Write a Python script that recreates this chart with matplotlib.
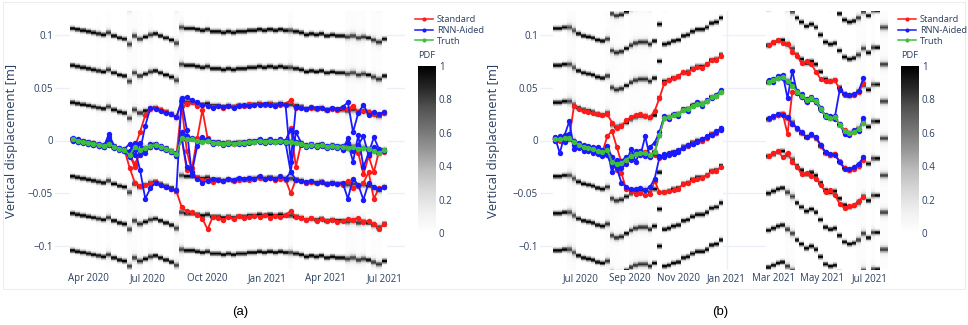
import numpy as np
import pandas as pd
import matplotlib
matplotlib.use('Agg')
import matplotlib.pyplot as plt
import matplotlib.dates as mdates
from matplotlib.lines import Line2D
from matplotlib.patches import Rectangle

plt.rcParams['font.family'] = ['Open Sans', 'DejaVu Sans']

# ------------------------------------------------------------
# Data (displacements in mm)
# ------------------------------------------------------------
AMBIGUITY_MM = 35.0      # spacing of the phase-wrapped PDF peaks

# (a): one acquisition every 8 days from 2020-03-07
dates_a = pd.date_range('2020-03-07', periods=61, freq='8D')

truth_a = [1, 0, -1, -2, -3, -4, -5, -3, -6, -8, -9, -14, -6, -9, -7, -5, -4, -6, -8, -10,
           -13, 2, 1, 1, 0, -1, 0, -2, -2, -3, -2, -3, -2, -2, -1, -1, 0, -1, 0, -1,
           0, -1, -1, -2, -3, -5, -4, -5, -4, -6, -5, -6, -6, -7, -6, -8, -7, -8, -10, -12, -9]

standard_a = [
    [1, 0, -1, -2, -3, -4, -5, -3, -6, -8, -9, -26, -40, -43, -42, -41, -39, -42, -44, -46,
     -48, -63, -67, -68, -70, -74, -84, -72, -73, -75, -72, -74, -71, -73, -72, -71, -72, -70, -73, -71,
     -72, -70, -67, -72, -73, -75, -73, -76, -74, -76, -75, -77, -76, -74, -75, -73, -77, -76, -79, -84, -79],
    [1, 0, -1, -2, -3, -4, -5, -3, -6, -8, -9, -14, -6, 8, 24, 30, 31, 29, 27, 25,
     22, 37, 35, 36, 33, 34, 33, 32, 33, 31, 33, 32, 34, 33, 35, 34, 35, 34, 35, 33,
     34, 35, 38, 31, 32, 30, 31, 30, 31, 29, 30, 29, 31, 30, 33, 27, 28, 27, 25, 24, 26],
    [1, 0, -1, -2, -3, -4, -5, -3, -6, -8, -9, -14, -22, -12, -9, -6, -4, -7, -8, -11,
     -14, 33, -10, -30, -35, -37, -37, -39, -37, -38, -36, -38, -37, -36, -37, -36, -35, -36, -35, -37,
     -36, -37, -50, -37, -38, -40, -39, -40, -39, -41, -40, -41, -42, -38, -45, -43, -40, -30, -55, -45, -44],
    [1, 0, -1, -2, -3, -4, -5, -3, -6, -8, -9, -14, -25, -9, -7, -5, -4, -6, -8, -10,
     -13, 2, -28, -26, 2, 29, 2, -2, -2, -3, -2, -3, -2, -2, -1, -1, 0, -1, 0, -1,
     0, -1, 12, -25, -3, -5, -4, -5, -4, -6, -5, -6, -6, -7, -6, -12, -32, -15, -30, -10, -11],
]

rnn_a = [
    [2, 0, -2, -1, -4, -3, -6, 6, -5, -9, -8, -3, -14, -2, -12, -3, -6, -5, -9, -11,
     -15, 8, 4, 2, -1, 0, 1, -3, -1, -4, -2, -2, -3, -1, -2, 0, 1, -2, 1, -1,
     1, 0, 10, -1, -4, -4, -5, -4, -3, -7, -4, -5, -9, 2, -10, -4, 4, -14, -6, -10, -9],
    [1, 1, -1, -3, -2, -5, -4, -4, -7, -7, -10, -12, -8, -28, -55, -45, -40, -42, -44, -46,
     -47, 40, 41, 38, 36, 34, 33, 31, 33, 32, 33, 31, 33, 34, 33, 34, 34, 35, 34, 33,
     35, 34, -20, 32, 31, 30, 32, 31, 31, 29, 31, 30, 32, 36, 8, 26, 34, 24, 27, 25, 27],
    [0, -1, 0, -2, -4, -5, -4, -1, -6, -8, -10, -16, -4, -10, 14, 31, 30, 28, 26, 25,
     22, 38, 10, -33, -36, -40, -38, -36, -37, -38, -36, -37, -35, -36, -35, -36, -34, -36, -35, -36,
     -34, -36, -30, -37, -38, -39, -38, -40, -39, -41, -40, -41, -40, -55, -36, -42, -56, -40, -44, -46, -44],
    [1, -1, -1, -3, -2, -4, -6, 3, -6, -7, -9, -10, -2, -14, -8, -6, -3, -7, -7, -10,
     -12, 3, -25, -30, -5, 3, 0, -1, -2, -2, -3, -2, -2, -3, 0, -1, -1, 0, -1, 0,
     -1, -2, -30, 8, -2, -6, -3, -6, -5, -5, -6, -7, -5, -2, -20, 5, -25, -12, 3, -8, -10],
]

# columns with a diffuse PDF (index -> weight of the broad part)
haze_a = {5: 0.15, 7: 0.35, 11: 0.45, 12: 0.4, 13: 0.3, 15: 0.35, 20: 0.45, 21: 0.45,
          26: 0.15, 42: 0.4, 53: 0.4, 54: 0.45, 55: 0.35, 56: 0.4, 58: 0.4, 59: 0.35}

# (b): one acquisition every 6 days from 2020-05-29, no data Dec 2020 - Feb 2021
dates_b = pd.date_range('2020-05-29', periods=71, freq='6D')
GAP_B = 9        # empty acquisitions between the two campaigns
TAIL_B = 5       # PDF-only columns after the last estimate

truth_b1 = [1, 1, 2, 2, -1, -4, -6, -7, -8, -10, -11, -9, -20, -22, -21, -18, -15, -13, -12, -12,
            -14, -11, 5, 21, 22, 24, 25, 29, 30, 33, 35, 35, 37, 41, 42, 46]
truth_b2 = [55, 57, 59, 60, 56, 52, 46, 42, 38, 40, 37, 30, 23, 21, 22, 15, 9, 7, 8, 11, 17]

standard_b1 = [
    [1, 1, 2, 2, 33, 30, 28, 27, 26, 25, 24, 25, 17, 12, 14, 19, 22, 24, 25, 23,
     22, 28, 40, 54, 57, 59, 61, 65, 64, 68, 70, 69, 72, 76, 76, 80],
    [1, 1, 2, 2, -1, -4, -6, -7, -8, -10, -11, -9, -22, -25, -31, -46, -48, -51, -50, -52,
     -51, -38, -49, -49, -48, -47, -46, -41, -40, -37, -36, -35, -33, -29, -29, -25],
    [2, 0, 3, 1, -2, -5, -5, -8, -7, -11, -10, -12, -16, -28, -24, -17, -14, -12, -13, -11,
     -15, -14, -17, -15, -13, -12, -10, -6, -5, -2, 0, 0, 2, 6, 7, 11],
    [1, 1, 2, 2, -1, -4, -6, -7, -8, -10, -11, 4, 9, -6, -21, -18, -15, -13, -12, -12,
     -14, -11, 5, 21, 22, 24, 25, 29, 30, 33, 35, 35, 37, 41, 42, 46],
]
standard_b2 = [
    [90, 93, 95, 92, 91, 84, 80, 73, 75, 72, 65, 58, 56, 56, 57, 48, 43, 43, 43, 46, 54],
    [-15, -12, -10, -16, -12, -20, -25, -32, -31, -34, -36, -42, -49, -47, -52, -60, -64, -62, -61, -57, -53],
    [20, 22, 24, 25, 21, 16, 11, 7, 3, 5, 2, -5, -12, -14, -13, -20, -26, -28, -27, -24, -18],
    [20, 22, 24, 25, 6, 46, 45, 41, 38, 39, 36, 30, 23, 21, 22, 15, 10, 7, 8, 11, 17],
]

rnn_b1 = [
    [3, -12, 5, 18, -8, -2, -10, -5, -12, -6, -15, -8, -30, -18, -26, -22, -8, -20, -10, -15,
     -6, -2, 8, 23, 20, 25, 23, 30, 28, 34, 36, 33, 38, 40, 43, 48],
    [0, 4, -1, 6, -4, -7, -4, -10, -6, -13, -9, -14, -24, -26, -40, -44, -46, -46, -45, -47,
     -44, -36, -16, -13, -14, -11, -11, -7, -4, -3, 0, 1, 3, 5, 8, 12],
    [2, 1, 0, 4, 0, -3, -8, -6, -10, -8, -13, -5, -16, -24, -19, -16, -18, -10, -14, 4,
     -16, -12, -15, -16, -12, -13, -9, -7, -4, -3, -1, 1, 4, 5, 9, 10],
]
rnn_b2 = [
    [57, 55, 61, 62, 40, 66, 45, 44, 36, 41, 38, 31, 22, 23, 20, 16, 6, 5, 10, 9, 21],
    [21, 23, 25, 24, 22, 16, 12, 8, 3, 6, 3, -4, -11, -13, -14, -20, -27, -27, -25, -22, -16],
    [55, 58, 59, 59, 55, 53, 47, 41, 39, 40, 36, 29, 24, 22, 23, 48, 44, 43, 44, 47, 59],
]

# PDF peak offsets for the columns after the last estimate
pdf_tail_b = [13, 18, 18, 2, 2]

haze_b = {3: 0.5, 4: 0.55, 11: 0.35, 12: 0.4, 13: 0.3, 14: 0.25, 16: 0.3, 17: 0.35,
          18: 0.3, 19: 0.35, 20: 0.25, 49: 0.4, 50: 0.45, 64: 0.4, 65: 0.45, 67: 0.4,
          69: 0.45, 70: 0.45}


def join_b(first, second):
    """Put both campaigns on the common 6-day grid of panel (b)."""
    return np.array(list(first) + [np.nan] * GAP_B + list(second) + [np.nan] * TAIL_B, dtype=float)


# ------------------------------------------------------------
# Helpers
# ------------------------------------------------------------
W, H = 968, 325
TXT = '#2a3f5f'
GRID = '#ebf0f8'
C_STD, C_RNN, C_TRUTH = '#ff1a1a', '#1a1aff', '#3cbf3c'
FS = 7.0         # tick labels
FS_LEG = 6.7     # legend / colorbar title

y_edges = np.linspace(-122.5, 122.5, 401)
y_mid = 0.5 * (y_edges[1:] + y_edges[:-1])


def box(x0, y0, x1, y1):
    return [x0 / W, 1 - y1 / H, (x1 - x0) / W, (y1 - y0) / H]


def pdf_columns(centers, haze):
    z = np.full((len(y_mid), len(centers)), np.nan)
    for j, c in enumerate(centers):
        if np.isnan(c):
            continue
        d = (y_mid - c + AMBIGUITY_MM / 2) % AMBIGUITY_MM - AMBIGUITY_MM / 2
        sharp = np.exp(-0.5 * (d / 1.6) ** 2)
        broad = 0.06 + 0.5 * np.exp(-0.5 * (d / 3.5) ** 2)
        h = haze.get(j, 0.0)
        z[:, j] = (1 - h) * sharp + h * broad
    return np.ma.masked_invalid(z)


def column_edges(dates, step_days):
    num = mdates.date2num(dates)
    half = step_days / 2
    return np.append(num - half, num[-1] + half)


def draw_panel(ax, dates, step, truth, std, rnn, centers, haze, xlim, xticks):
    x = mdates.date2num(dates)
    mesh = ax.pcolormesh(column_edges(dates, step), y_edges / 1000, pdf_columns(centers, haze),
                         cmap='Greys', vmin=0, vmax=1, shading='flat', zorder=1)
    style = dict(lw=1.3, ms=3.9, mew=0, marker='o')
    for tr in std:
        ax.plot(x, np.asarray(tr, float) / 1000, color=C_STD, zorder=2, **style)
    for tr in rnn:
        ax.plot(x, np.asarray(tr, float) / 1000, color=C_RNN, zorder=3, **style)
    ax.plot(x, np.asarray(truth, float) / 1000, color=C_TRUTH, zorder=4, **style)

    ax.set_xlim(mdates.date2num(pd.to_datetime(xlim)))
    ax.set_ylim(-0.1225, 0.1225)
    tick_dates = pd.to_datetime(xticks)
    ax.set_xticks(mdates.date2num(tick_dates))
    ax.set_xticklabels([d.strftime('%b %Y') for d in tick_dates])
    yt = [-0.1, -0.05, 0, 0.05, 0.1]
    ax.set_yticks(yt)
    ax.set_yticklabels([f'{v:g}'.replace('-', '\u2212') for v in yt])
    for s in ax.spines.values():
        s.set_visible(False)
    ax.tick_params(length=0, labelsize=FS, colors=TXT)
    ax.tick_params(axis='y', pad=1.5)
    ax.tick_params(axis='x', pad=2)
    ax.grid(True, color=GRID, lw=1.0)
    ax.set_axisbelow(True)
    return mesh


# ------------------------------------------------------------
# Figure
# ------------------------------------------------------------
fig = plt.figure(figsize=(W / 100, H / 100), dpi=100)

# panel (a)
ax_a = fig.add_axes(box(55, 11, 405, 270))
mesh_a = draw_panel(ax_a, dates_a, 8, truth_a, standard_a, rnn_a,
                    np.asarray(truth_a, float), haze_a,
                    ['2020-02-09', '2021-08-01'],
                    ['2020-04-01', '2020-07-01', '2020-10-01', '2021-01-01', '2021-04-01', '2021-07-01'])

# panel (b)
truth_b = join_b(truth_b1, truth_b2)
centers_b = truth_b.copy()
centers_b[-TAIL_B:] = pdf_tail_b
ax_b = fig.add_axes(box(540, 11, 888, 270))
mesh_b = draw_panel(ax_b, dates_b, 6, truth_b,
                    [join_b(a, b) for a, b in zip(standard_b1, standard_b2)],
                    [join_b(a, b) for a, b in zip(rnn_b1, rnn_b2)],
                    centers_b, haze_b,
                    ['2020-05-10', '2021-07-24'],
                    ['2020-07-01', '2020-09-01', '2020-11-01', '2021-01-01', '2021-03-01',
                     '2021-05-01', '2021-07-01'])

for xl in (12, 493):
    fig.text(xl / W, 1 - 141 / H, 'Vertical displacement [m]', rotation=90,
             ha='center', va='center', fontsize=9.4, color=TXT)

handles = [Line2D([], [], color=c, lw=1.1, marker='o', ms=3.0, mew=0)
           for c in (C_STD, C_RNN, C_TRUTH)]
names = ['Standard', 'RNN-Aided', 'Truth']

for lx, cb_x, mesh in ((415, 418, mesh_a), (898, 901, mesh_b)):
    fig.legend(handles, names, loc='upper left', bbox_to_anchor=(lx / W, 1 - 15 / H),
               frameon=False, fontsize=FS_LEG, labelcolor=TXT, handlelength=1.95,
               handletextpad=0.4, labelspacing=0.2, borderaxespad=0, borderpad=0)
    cax = fig.add_axes(box(cb_x, 66, cb_x + 18, 233))
    cb = fig.colorbar(mesh, cax=cax, ticks=[0, 0.2, 0.4, 0.6, 0.8, 1])
    cb.set_ticklabels(['0', '0.2', '0.4', '0.6', '0.8', '1'])
    cb.outline.set_visible(False)
    cax.tick_params(length=0, labelsize=FS, colors=TXT, pad=2)
    fig.text((cb_x + 9) / W, 1 - 55 / H, 'PDF', ha='center', va='center',
             fontsize=FS_LEG, color=TXT)

fig.add_artist(Rectangle((3 / W, 1 - 289 / H), 962 / W, 287 / H, transform=fig.transFigure,
                         fill=False, ec='#ececec', lw=0.7))

for cx, lab in ((240, '(a)'), (720, '(b)')):
    fig.text(cx / W, 1 - 312 / H, lab, ha='center', va='center', fontsize=9.5,
             family='Liberation Sans', color='black')

fig.savefig('out.png', dpi=100)
